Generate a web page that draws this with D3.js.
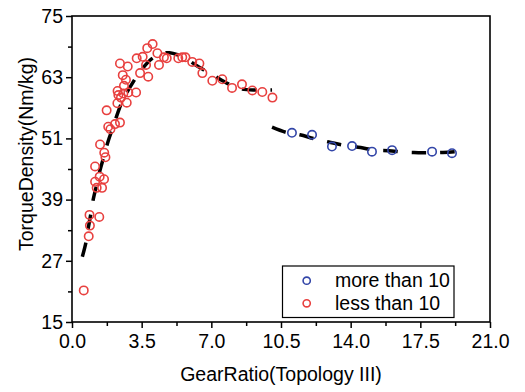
<!DOCTYPE html>
<html><head><meta charset="utf-8">
<script src="https://cdn.jsdelivr.net/npm/d3@7"></script>
<style>body{margin:0;background:#fff}svg{display:block}text{font-family:"Liberation Sans",Arial,sans-serif;fill:#000}</style>
</head><body><svg id="c" width="525" height="392"></svg>
<script>
// ---- data ----
const lessX = [0.59,0.84,0.90,0.88,1.37,1.16,1.39,1.61,1.24,1.51,1.16,1.41,1.62,1.68,1.74,1.82,1.93,2.16,2.41,2.28,2.75,2.46,2.33,2.29,2.58,2.83,3.22,2.61,2.71,2.55,2.41,2.80,3.25,3.55,3.42,3.72,3.83,3.78,4.05,4.29,4.37,4.62,4.76,5.34,5.54,5.70,6.04,6.40,6.55,7.05,7.55,8.04,8.54,9.06,9.56,10.07];
const lessY = [21.2,31.8,33.9,36.0,35.6,42.5,43.5,43.0,41.3,41.3,45.5,49.8,48.2,47.3,56.5,53.3,52.8,53.8,54.1,57.9,58.0,59.0,59.5,60.3,59.8,60.0,60.0,61.3,62.5,63.4,65.7,65.1,66.7,67.0,63.8,65.4,63.1,68.7,69.5,67.7,65.4,66.9,66.7,66.7,66.9,66.9,66.0,65.7,63.8,62.3,62.6,60.9,61.6,60.4,60.1,59.0];
const moreX = [11.05,12.06,13.06,14.07,15.07,16.08,18.09,19.09];
const moreY = [52.1,51.7,49.4,49.5,48.4,48.7,48.4,48.1];
const fitLessX = [0.52,0.69,0.82,0.95,1.07,1.24,1.41,1.62,1.82,2.07,2.30,2.55,3.0,3.5,4.0,4.5,4.9,5.3,5.8,6.5,7.1,7.8,8.5,9.3,10.05];
const fitLessY = [27.8,30.4,33.5,36.3,39.1,41.9,44.8,47.7,50.5,53.3,56.0,58.5,61.6,64.5,66.6,67.6,67.8,67.4,66.4,64.7,63.4,61.8,60.7,60.5,60.5];
const fitMoreX = [10.05,10.75,11.45,12.2,12.9,13.6,14.5,15.2,15.9,16.7,17.4,18.1,18.9,19.7];
const fitMoreY = [53.2,52.2,51.7,50.9,50.3,49.7,49.2,48.7,48.6,48.3,48.2,48.2,48.3,48.5];
const xTicks = [0,3.5,7,10.5,14,17.5,21];
const xMinor = [1.75,5.25,8.75,12.25,15.75,19.25];
const yTicks = [15,27,39,51,63,75];
const yMinor = [21,33,45,57,69];
const seriesNames = ["more than 10","less than 10"];
const xTitle = "GearRatio(Topology III)";
const yTitle = "TorqueDensity(Nm/kg)";

// ---- layout ----
const L=72,R=490,T=16,B=322;
const RED="#e8403f", BLUE="#3346a8";
const svg=d3.select("#c");
const x=d3.scaleLinear().domain([0,21]).range([L,R]);
const y=d3.scaleLinear().domain([15,75]).range([B,T]);

// fit lines
const line=d3.line().x(d=>x(d[0])).y(d=>y(d[1])).curve(d3.curveCatmullRom);
[[fitLessX,fitLessY],[fitMoreX,fitMoreY]].forEach(([fx,fy])=>{
  svg.append("path").attr("d",line(fx.map((v,i)=>[v,fy[i]])))
    .attr("fill","none").attr("stroke","#000").attr("stroke-width",3.5)
    .attr("stroke-dasharray","14.5,14");
});

// points
function pts(xs,ys,col){
  svg.append("g").selectAll("circle").data(xs.map((v,i)=>[v,ys[i]])).join("circle")
    .attr("cx",d=>x(d[0])).attr("cy",d=>y(d[1])).attr("r",4.2)
    .attr("fill","none").attr("stroke",col).attr("stroke-width",1.6);
}
pts(lessX,lessY,RED);
pts(moreX,moreY,BLUE);

// axes
const fs=19.5;
svg.append("g").attr("transform",`translate(0,${B})`)
  .call(d3.axisBottom(x).tickValues(xTicks).tickFormat(d3.format(".1f")).tickSize(6).tickPadding(6));
svg.append("g").attr("transform",`translate(0,${B})`)
  .call(d3.axisBottom(x).tickValues(xMinor).tickFormat("").tickSize(4)).select(".domain").remove();
svg.append("g").attr("transform",`translate(${L},0)`)
  .call(d3.axisLeft(y).tickValues(yTicks).tickFormat(d3.format("d")).tickSize(6).tickPadding(3));
svg.append("g").attr("transform",`translate(${L},0)`)
  .call(d3.axisLeft(y).tickValues(yMinor).tickFormat("").tickSize(4)).select(".domain").remove();
svg.selectAll(".tick line").attr("stroke","#000").attr("stroke-width",1.5);
svg.selectAll(".domain").remove();
svg.selectAll(".tick text").attr("font-size",fs).attr("font-family","Liberation Sans, Arial, sans-serif").attr("fill","#000");
// frame
svg.append("rect").attr("x",L).attr("y",T).attr("width",R-L).attr("height",B-T)
  .attr("fill","none").attr("stroke","#000").attr("stroke-width",1.6);

// titles
svg.append("text").attr("x",(L+R)/2).attr("y",381).attr("text-anchor","middle").attr("font-size",fs).text(xTitle);
svg.append("text").attr("transform","translate(33,154) rotate(-90)").attr("text-anchor","middle").attr("font-size",fs).text(yTitle);

// legend
const lg=svg.append("g");
lg.append("rect").attr("x",282.5).attr("y",266).attr("width",171.5).attr("height",51.5).attr("fill","#fff").attr("stroke","#000").attr("stroke-width",1.2);
[[BLUE,280.7],[RED,303.3]].forEach(([c,cy],i)=>{
  lg.append("circle").attr("cx",306.7).attr("cy",cy).attr("r",3.6).attr("fill","none").attr("stroke",c).attr("stroke-width",1.6);
  lg.append("text").attr("x",335).attr("y",cy+6.5).attr("font-size",fs).text(seriesNames[i]);
});
</script></body></html>
